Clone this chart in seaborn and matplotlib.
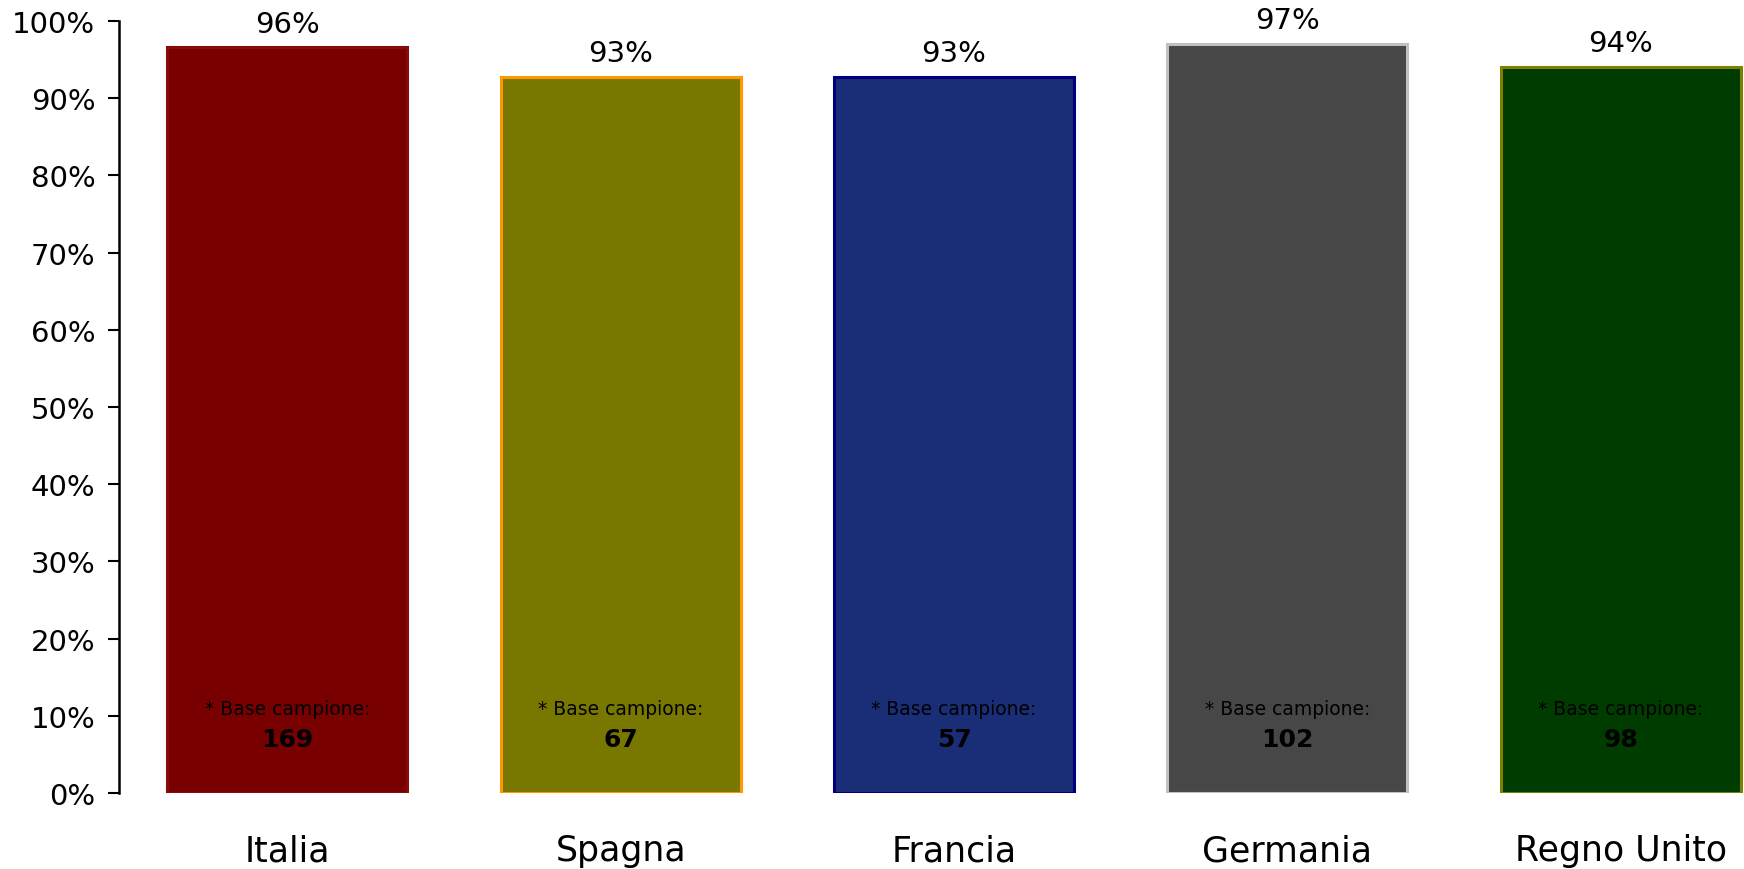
import pandas as pd
import matplotlib
matplotlib.use("Agg")
import matplotlib.pyplot as plt
import seaborn as sns

# ---------------------------------------------------------
#   DATA
# ---------------------------------------------------------
paesi = ["Italia", "Spagna", "Francia", "Germania", "Regno Unito"]
valori = [0.966, 0.928, 0.928, 0.970, 0.941]
etichette = ["96%", "93%", "93%", "97%", "94%"]
base_campione = [169, 67, 57, 102, 98]

colori_fill = ["#780000", "#787800", "#1A2E78", "#474747", "#003C00"]
colori_bordo = ["#8A0A0A", "#FF9900", "#000080", "#C0C0C0", "#808000"]

df = pd.DataFrame({"paese": paesi, "valore": valori})

# ---------------------------------------------------------
#   PLOT
# ---------------------------------------------------------
sns.set_style("white")
plt.rcParams["font.family"] = ["DejaVu Sans"]
plt.rcParams["text.color"] = "black"
plt.rcParams["xtick.color"] = "black"
plt.rcParams["ytick.color"] = "black"

fig = plt.figure(figsize=(17.44, 8.7), dpi=100)
ax = fig.add_axes([119 / 1744, 76 / 870, 1 - 119 / 1744, (794 - 22) / 870])

sns.barplot(data=df, x="paese", y="valore", hue="paese", palette=colori_fill,
            legend=False, width=0.72, saturation=1, ax=ax)

for patch, bordo in zip(ax.patches, colori_bordo):
    patch.set_edgecolor(bordo)
    patch.set_linewidth(2.2)

for i, (v, lab, n) in enumerate(zip(valori, etichette, base_campione)):
    ax.annotate(lab, (i, v), xytext=(0, 7), textcoords="offset points",
                ha="center", va="bottom", fontsize=21)
    ax.text(i, 0.11, "* Base campione:", ha="center", va="center", fontsize=13.5)
    ax.text(i, 0.07, str(n), ha="center", va="center", fontsize=18,
            fontweight="bold")

ax.set_ylim(0, 1)
ax.set_xlim(-0.505, 4.37)
ax.set_yticks([i / 10 for i in range(11)])
ax.set_yticklabels([f"{i * 10}%" for i in range(11)], fontsize=21)
ax.set_xlabel("")
ax.set_ylabel("")
ax.tick_params(axis="x", length=0, pad=29, labelsize=25)
ax.tick_params(axis="y", left=True, length=8, width=1.5, pad=9)

sns.despine(ax=ax, bottom=True)
ax.spines["left"].set_linewidth(1.8)
ax.spines["left"].set_color("black")

fig.savefig("out.png", dpi=100)
